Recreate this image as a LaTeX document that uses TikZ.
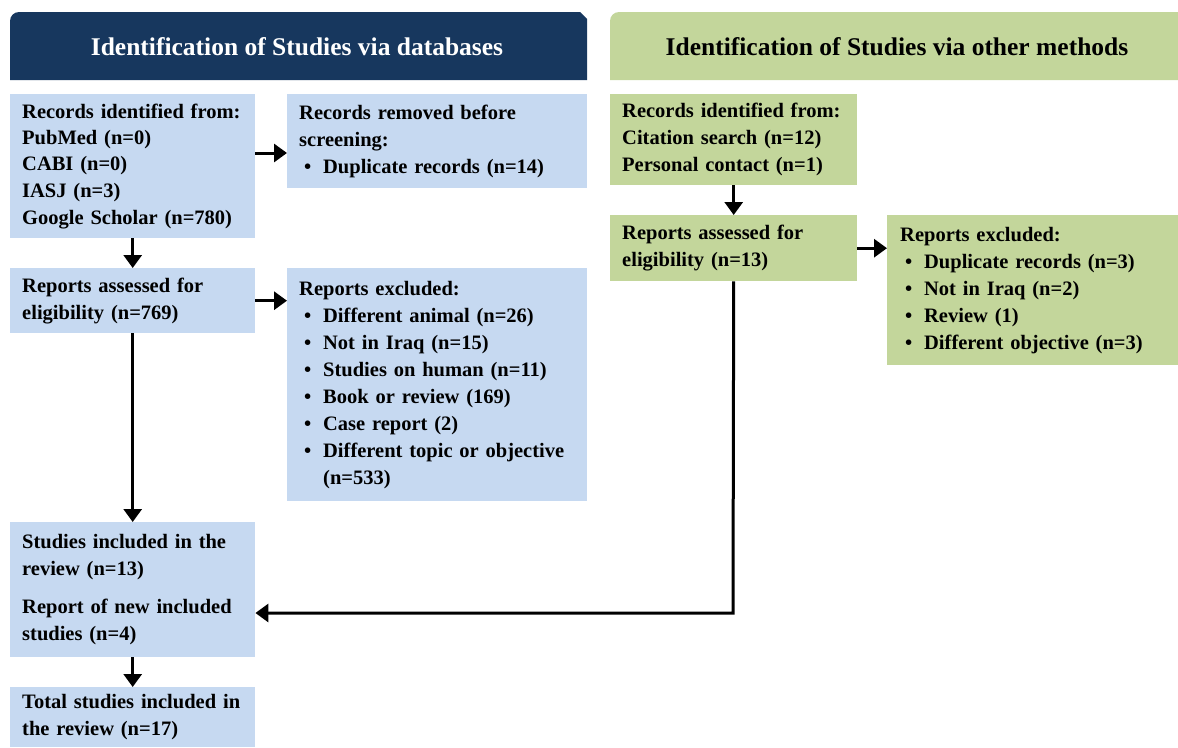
\documentclass[tikz,border=0pt]{standalone}
\usepackage{fontspec}
\setmainfont{Liberation Serif}
\usetikzlibrary{arrows.meta}

\definecolor{navy}{HTML}{17375E}
\definecolor{paleblue}{HTML}{C6D9F1}
\definecolor{palegreen}{HTML}{C3D69B}

\newcommand{\bitem}[1]{\par\noindent\hangindent=24pt\hangafter=1\makebox[24pt][l]{\hspace{5pt}\textbullet}#1\par}

\begin{document}
\begin{tikzpicture}[x=1pt,y=-1pt,
  box/.style={anchor=north west, inner xsep=12pt, inner ysep=0pt, align=left,
    font=\bfseries\fontsize{20.5}{27}\selectfont},
  dbbox/.style={box, fill=paleblue},
  otbox/.style={box, fill=palegreen},
  headtext/.style={font=\bfseries\fontsize{25.5}{30}\selectfont},
  arr/.style={line width=3pt, line join=miter, -{Triangle[length=13pt,width=18pt]}}]
\useasboundingbox (0,0) rectangle (1178,747);

% headers
\fill[navy] (10,80) [rounded corners=9pt]-- (10,12) [sharp corners]-- (580,12) -- (587,19) -- (587,80) -- cycle;
\fill[palegreen] (610,80) [rounded corners=9pt]-- (610,12) [sharp corners]-- (1178,12) -- (1178,80) -- cycle;
\node[headtext, text=white] (dbhead) at (297,47) {Identification of Studies via databases};
\node[headtext] (othead) at (897,47) {Identification of Studies via other methods};

% databases
\node[dbbox, minimum width=245pt, minimum height=144pt, text width=221pt] (dbrec) at (10,94)
  {\fontsize{20.5}{26.3}\selectfont Records identified from:\\PubMed (n=0)\\CABI (n=0)\\IASJ (n=3)\\Google Scholar (n=780)};
\node[dbbox, minimum width=300pt, minimum height=94pt, text width=276pt] (dbremoved) at (287,94)
  {Records removed before\\screening:
   \bitem{Duplicate records (n=14)}};
\node[dbbox, minimum width=245pt, minimum height=65pt, text width=221pt] (dbassessed) at (10,268)
  {Reports assessed for\\eligibility (n=769)};
\node[dbbox, minimum width=300pt, minimum height=233pt, text width=276pt] (dbexcluded) at (287,268)
  {Reports excluded:
   \bitem{Different animal (n=26)}
   \bitem{Not in Iraq (n=15)}
   \bitem{Studies on human (n=11)}
   \bitem{Book or review (169)}
   \bitem{Case report (2)}
   \bitem{Different topic or objective (n=533)}};
\node[dbbox, minimum width=245pt, minimum height=135pt, text width=221pt] (included) at (10,522)
  {Studies included in the\\review (n=13)\\[11pt]Report of new included\\studies (n=4)};
\node[dbbox, minimum width=245pt, minimum height=60pt, text width=221pt] (total) at (10,687)
  {Total studies included in\\the review (n=17)};

% other methods
\node[otbox, minimum width=247pt, minimum height=91pt, text width=223pt] (otrec) at (610,94)
  {Records identified from:\\Citation search (n=12)\\Personal contact (n=1)};
\node[otbox, minimum width=247pt, minimum height=66pt, text width=223pt] (otassessed) at (610,215)
  {Reports assessed for\\eligibility (n=13)};
\node[otbox, minimum width=291pt, minimum height=150pt, text width=265pt, inner xsep=13pt] (otexcluded) at (887,215)
  {Reports excluded:
   \bitem{Duplicate records (n=3)}
   \bitem{Not in Iraq (n=2)}
   \bitem{Review (1)}
   \bitem{Different objective (n=3)}};

% connectors
\coordinate (rmrow) at (0,153);
\coordinate (join) at (733,613);
\draw[arr] (dbrec.east |- rmrow) -- (dbremoved.west |- rmrow);
\draw[arr] (dbrec.south) -- (dbassessed.north);
\draw[arr] (dbassessed.east) -- (dbassessed.east -| dbexcluded.west);
\draw[arr] (dbassessed.south) -- (included.north);
\draw[arr] (included.south) -- (total.north);
\draw[arr] (otrec.south) -- (otassessed.north);
\draw[arr] (otassessed.east) -- (otassessed.east -| otexcluded.west);
\draw[arr] (otassessed.south) -- (join) -- (join -| included.east);
\end{tikzpicture}
\end{document}
